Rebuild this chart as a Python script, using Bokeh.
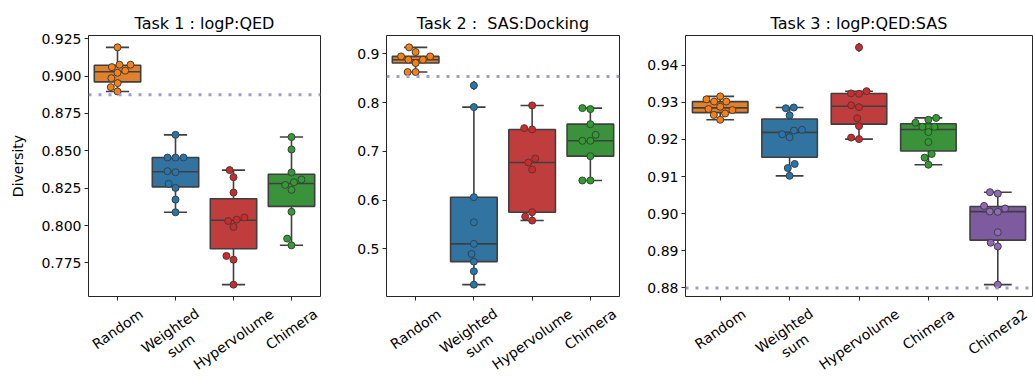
import math
import numpy as np
from bokeh.plotting import figure
from bokeh.layouts import row, column
from bokeh.models import Range1d, FixedTicker, Span, NumeralTickFormatter
from bokeh.core.properties import value
from bokeh.embed import file_html
from bokeh.resources import INLINE

# ---------------- data ----------------
titles = ["Task 1 : logP:QED", "Task 2 : \u00a0SAS:Docking", "Task 3 : logP:QED:SAS"]
methods_4 = ["Random", "Weighted\nsum", "Hypervolume", "Chimera"]
methods_5 = ["Random", "Weighted\nsum", "Hypervolume", "Chimera", "Chimera2"]

# Task 1
t1_random = [0.9192, 0.9076, 0.9076, 0.9060, 0.9036, 0.9022, 0.8986, 0.8953, 0.8926, 0.8897]
t1_weighted = [0.8607, 0.8455, 0.8455, 0.8455, 0.8364, 0.8357, 0.8279, 0.8252, 0.8174, 0.8089]
t1_hyper = [0.8371, 0.8324, 0.8221, 0.8054, 0.8040, 0.8031, 0.7991, 0.7797, 0.7772, 0.7605]
t1_chimera = [0.8592, 0.8509, 0.8355, 0.8308, 0.8290, 0.8272, 0.8239, 0.8092, 0.7913, 0.7868]
# Task 2
t2_random = [0.9130, 0.9034, 0.8945, 0.8945, 0.8877, 0.8877, 0.8809, 0.8624, 0.8624]
t2_weighted = [0.8350, 0.7906, 0.6060, 0.5547, 0.5103, 0.4897, 0.4740, 0.4542, 0.4268]
t2_hyper = [0.7940, 0.7475, 0.7448, 0.6853, 0.6771, 0.6627, 0.5752, 0.5663, 0.5581]
t2_chimera = [0.7885, 0.7865, 0.7557, 0.7338, 0.7215, 0.7215, 0.6901, 0.6402, 0.6402]
# Task 3
t3_random = [0.9316, 0.9308, 0.9302, 0.9302, 0.9288, 0.9282, 0.9279, 0.9270, 0.9266, 0.9253]
t3_weighted = [0.9286, 0.9284, 0.9265, 0.9226, 0.9224, 0.9214, 0.9206, 0.9134, 0.9123, 0.9102]
t3_hyper = [0.9448, 0.9330, 0.9324, 0.9323, 0.9292, 0.9287, 0.9257, 0.9236, 0.9205, 0.9201]
t3_chimera = [0.9258, 0.9253, 0.9245, 0.9234, 0.9234, 0.9220, 0.9193, 0.9161, 0.9151, 0.9132]
t3_chimera2 = [0.9058, 0.9054, 0.9021, 0.9014, 0.9006, 0.9005, 0.8950, 0.8922, 0.8912, 0.8809]

baselines = [0.8875, 0.8535, 0.8800]

y_ticks_1 = [0.775, 0.800, 0.825, 0.850, 0.875, 0.900, 0.925]
y_ticks_2 = [0.5, 0.6, 0.7, 0.8, 0.9]
y_ticks_3 = [0.88, 0.89, 0.90, 0.91, 0.92, 0.93, 0.94]
y_formats = ["0.000", "0.0", "0.00"]

point_colors = ["#ff7f0e", "#1f77b4", "#d62728", "#2ca02c", "#9467bd"]
box_colors = ["#e1812c", "#3274a1", "#c03d3e", "#3a923a", "#7e5a9e"]

FONT = "DejaVu Sans"
DARK = "#262626"
LINE = "#3f3f3f"
TOTAL_H = 379
TOP = 35
FRAME_H = 261
TB = 6                       # border under the plot frame (ticks)
TOP_H = TOP + FRAME_H + TB
STRIP_H = TOTAL_H - TOP_H    # strip that holds rotated category labels
DOT_D = 8.0
LABEL_PX = 14
ANGLE = math.radians(35)

# approximate DejaVu Sans advance widths (em)
CHAR_W = {"R": .695, "a": .613, "n": .634, "d": .635, "o": .612, "m": .974, "W": .989,
          "e": .615, "i": .278, "g": .635, "h": .634, "t": .392, "s": .521, "u": .634,
          "H": .752, "y": .592, "p": .635, "r": .411, "v": .592, "l": .278, "C": .698,
          "2": .636}


def text_w(s):
    return sum(CHAR_W.get(c, 0.6) for c in s) * LABEL_PX


def swarm_offsets(vals, y_px_per_unit, x_px_per_unit, d=DOT_D):
    ys = np.asarray(vals, dtype=float) * y_px_per_unit
    order = np.argsort(ys, kind="stable")
    placed = []
    offs = np.zeros(len(ys))
    for idx in order:
        y = ys[idx]
        cands = [0.0]
        for px, py in placed:
            dy = abs(y - py)
            if dy < d:
                dx = math.sqrt(d * d - dy * dy)
                cands += [px - dx, px + dx]
        cands.sort(key=lambda c: (round(abs(c), 6), c))
        chosen = cands[-1]
        for c in cands:
            if all((c - px) ** 2 + (y - py) ** 2 >= d * d - 1e-6 for px, py in placed):
                chosen = c
                break
        placed.append((chosen, y))
        offs[idx] = chosen / x_px_per_unit
    return offs


def make_panel(k, title, labels, groups, ticks, fmt, width, bl, br, ylabel=None):
    n = len(labels)
    allv = np.concatenate([np.asarray(g) for g in groups])
    lo, hi = allv.min(), allv.max()
    pad = 0.05 * (hi - lo)
    y0, y1 = lo - pad, hi + pad
    frame_w = width - bl - br
    xr = Range1d(-0.5, n - 0.5)
    p = figure(width=width, height=TOP_H, output_backend="svg", toolbar_location=None,
               x_range=xr, y_range=Range1d(y0, y1),
               min_border_left=bl, min_border_right=br, min_border_top=TOP,
               min_border_bottom=TB, title=title)
    p.title.text_font = FONT
    p.title.text_font_size = "16px"
    p.title.text_font_style = "normal"
    p.title.text_color = "black"
    p.title.align = "center"
    p.title.standoff = 6
    p.xgrid.visible = False
    p.ygrid.visible = False
    p.outline_line_color = DARK
    p.outline_line_width = 1
    p.background_fill_color = "white"
    p.border_fill_color = "white"

    ypx = FRAME_H / (y1 - y0)
    xpx = frame_w / n
    for i, vals in enumerate(groups):
        v = np.asarray(vals, dtype=float)
        q1, med, q3 = np.percentile(v, [25, 50, 75])
        iqr = q3 - q1
        inside = v[(v >= q1 - 1.5 * iqr) & (v <= q3 + 1.5 * iqr)]
        wlo, whi = inside.min(), inside.max()
        fliers = v[(v < q1 - 1.5 * iqr) | (v > q3 + 1.5 * iqr)]
        p.segment(x0=[i, i], y0=[q3, q1], x1=[i, i], y1=[whi, wlo], line_color=LINE, line_width=1.6)
        p.segment(x0=[i - 0.2, i - 0.2], y0=[whi, wlo], x1=[i + 0.2, i + 0.2], y1=[whi, wlo],
                  line_color=LINE, line_width=1.6)
        p.quad(left=[i - 0.4], right=[i + 0.4], bottom=[q1], top=[q3],
               fill_color=box_colors[i], line_color=LINE, line_width=1.6)
        p.segment(x0=[i - 0.4], y0=[med], x1=[i + 0.4], y1=[med], line_color=LINE, line_width=1.6)
        if len(fliers):
            p.scatter(x=[i] * len(fliers), y=list(fliers), marker="diamond", size=9,
                      fill_color=LINE, line_color=LINE)
    for i, vals in enumerate(groups):
        offs = swarm_offsets(vals, ypx, xpx)
        p.scatter(x=list(i + offs), y=list(vals), size=7, fill_color=point_colors[i],
                  line_color=LINE, line_width=1)

    p.add_layout(Span(location=baselines[k], dimension="width", line_color="#a09bd2",
                      line_width=3, line_dash="3 7"))

    for ax in (p.xaxis[0], p.yaxis[0]):
        ax.axis_line_color = None
        ax.major_tick_line_color = DARK
        ax.major_tick_out = 4
        ax.major_tick_in = 0
        ax.minor_tick_line_color = None
        ax.major_label_text_font = FONT
        ax.major_label_text_font_size = "14px"
        ax.major_label_text_color = "black"
        ax.major_label_standoff = 3
    p.xaxis.ticker = FixedTicker(ticks=list(range(n)))
    p.xaxis.major_label_overrides = {i: "" for i in range(n)}
    p.xaxis.major_label_text_font_size = "0px"
    p.xaxis.major_label_standoff = 0

    p.yaxis.ticker = FixedTicker(ticks=ticks)
    p.yaxis.formatter = NumeralTickFormatter(format=fmt)
    if ylabel:
        p.yaxis.axis_label = ylabel
        p.yaxis.axis_label_text_font = FONT
        p.yaxis.axis_label_text_font_size = "14px"
        p.yaxis.axis_label_text_font_style = "normal"
        p.yaxis.axis_label_text_color = "black"
        p.yaxis.axis_label_standoff = 12

    # strip below the plot holding the rotated category labels (matplotlib style:
    # rotated bbox centred on the tick, its top just below the tick marks)
    s = figure(width=width, height=STRIP_H, output_backend="svg", toolbar_location=None,
               x_range=xr, y_range=Range1d(-STRIP_H, 0), x_axis_type=None, y_axis_type=None,
               min_border_left=bl, min_border_right=br, min_border_top=0, min_border_bottom=0)
    s.xgrid.visible = False
    s.ygrid.visible = False
    s.outline_line_color = None
    s.background_fill_color = "white"
    s.border_fill_color = "white"
    xs, ys = [], []
    for i, lab in enumerate(labels):
        lines = lab.split("\n")
        w = max(text_w(t) for t in lines)
        h = len(lines) * LABEL_PX * 1.17
        bbox_h = w * math.sin(ANGLE) + h * math.cos(ANGLE)
        off = 4 + 5 + bbox_h / 2 - TB
        xs.append(i)
        ys.append(-off)
    s.text(x=xs, y=ys, text=list(labels), angle=ANGLE, text_align="center",
           text_baseline="middle", text_font=value(FONT), text_font_size=value("14px"),
           text_color="black", text_line_height=1.15)
    return column(p, s, spacing=0)


p1 = make_panel(0, titles[0], methods_4, [t1_random, t1_weighted, t1_hyper, t1_chimera],
                y_ticks_1, y_formats[0], 330, 88, 10, ylabel="Diversity")
p2 = make_panel(1, titles[1], methods_4, [t2_random, t2_weighted, t2_hyper, t2_chimera],
                y_ticks_2, y_formats[1], 299, 56, 10)
p3 = make_panel(2, titles[2], methods_5, [t3_random, t3_weighted, t3_hyper, t3_chimera, t3_chimera2],
                y_ticks_3, y_formats[2], 404, 56, 1)

layout = row(p1, p2, p3, spacing=0)
open("out.html", "w").write(file_html(layout, INLINE))
